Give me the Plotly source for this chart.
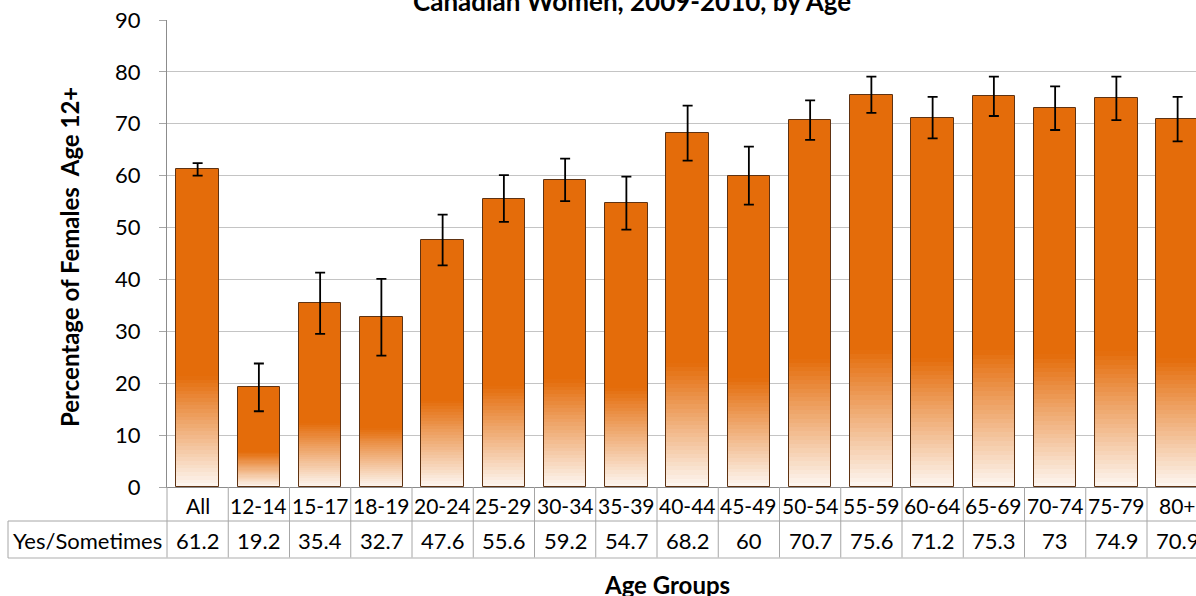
import plotly.graph_objects as go

categories = ["All", "12-14", "15-17", "18-19", "20-24", "25-29", "30-34", "35-39", "40-44",
              "45-49", "50-54", "55-59", "60-64", "65-69", "70-74", "75-79", "80+"]
values = [61.2, 19.2, 35.4, 32.7, 47.6, 55.6, 59.2, 54.7, 68.2, 60, 70.7, 75.6, 71.2, 75.3, 73, 74.9, 70.9]
value_labels = ["61.2", "19.2", "35.4", "32.7", "47.6", "55.6", "59.2", "54.7", "68.2", "60",
                "70.7", "75.6", "71.2", "75.3", "73", "74.9", "70.9"]
errors = [1.2, 4.6, 5.9, 7.4, 4.9, 4.5, 4.1, 5.1, 5.3, 5.6, 3.8, 3.5, 4.0, 3.8, 4.2, 4.2, 4.3]
y_ticks = [0, 10, 20, 30, 40, 50, 60, 70, 80, 90]

W, H = 1196, 596
ML, MR, MT, MB = 167, 0, 20, 109
PW, PH = W - ML - MR, H - MT - MB
X0, X1 = -0.5, 16.3

FONT = "Lato"
ORANGE = (228, 108, 10)
WHITE = (253, 247, 242)
BAR_W = 0.69
GRAD_FRAC = 0.35
STEPS = 30


def px_x(p):
    return (p - ML) / PW


def px_y(p):
    return (H - MB - p) / PH


def mix(t):
    c = [round(WHITE[i] + (ORANGE[i] - WHITE[i]) * t) for i in range(3)]
    return "rgb(%d,%d,%d)" % tuple(c)


xpos = list(range(len(categories)))
fig = go.Figure()

# solid bar body
fig.add_trace(go.Bar(x=xpos, y=values, width=BAR_W, marker=dict(color=mix(1.0), line=dict(width=0)),
                     hoverinfo="skip", showlegend=False))
# gradient toward the base of each bar
for j in range(STEPS, 0, -1):
    frac = GRAD_FRAC * j / STEPS
    t = (j - 0.5) / STEPS
    fig.add_trace(go.Bar(x=xpos, y=[v * frac for v in values], width=BAR_W,
                         marker=dict(color=mix(t), line=dict(width=0)),
                         hoverinfo="skip", showlegend=False))
# outline + error bars
fig.add_trace(go.Bar(x=xpos, y=values, width=BAR_W, name="Yes/Sometimes",
                     marker=dict(color="rgba(0,0,0,0)", line=dict(color="#5e3212", width=1)),
                     error_y=dict(type="data", array=errors, visible=True, color="black",
                                  thickness=1.8, width=5),
                     customdata=categories,
                     hovertemplate="%{customdata}: %{y}<extra></extra>", showlegend=False))

shapes = []
line_c = "#a6a6a6"
y_axis = 0
y_row = px_y(521)
y_bot = px_y(558)
for i in range(len(categories) + 1):
    b = i - 0.5
    xp = (b - X0) / (X1 - X0)
    if xp > 1.0:
        continue
    shapes.append(dict(type="line", xref="paper", yref="paper", x0=xp, x1=xp, y0=y_axis, y1=y_bot,
                       line=dict(color=line_c, width=1)))
shapes.append(dict(type="line", xref="paper", yref="paper", x0=px_x(8), x1=1.0, y0=y_row, y1=y_row,
                   line=dict(color=line_c, width=1)))
shapes.append(dict(type="line", xref="paper", yref="paper", x0=px_x(8), x1=1.0, y0=y_bot, y1=y_bot,
                   line=dict(color="#c8c8c8", width=1.5)))
shapes.append(dict(type="line", xref="paper", yref="paper", x0=px_x(8), x1=px_x(8), y0=y_row, y1=y_bot,
                   line=dict(color=line_c, width=1)))

annotations = []
for i, (c, v) in enumerate(zip(categories, value_labels)):
    annotations.append(dict(x=i, xref="x", y=px_y(505), yref="paper", text=c, showarrow=False,
                            font=dict(family=FONT, size=21, color="black"), xanchor="center", yanchor="middle"))
    annotations.append(dict(x=i, xref="x", y=px_y(540), yref="paper", text=v, showarrow=False,
                            font=dict(family=FONT, size=22, color="black"), xanchor="center", yanchor="middle"))
annotations.append(dict(x=px_x(87), xref="paper", y=px_y(540), yref="paper", text="Yes/Sometimes",
                        showarrow=False, font=dict(family=FONT, size=22, color="black"),
                        xanchor="center", yanchor="middle"))
annotations.append(dict(x=px_x(69), xref="paper", y=px_y(257), yref="paper",
                        text="<b>Percentage of Females  Age 12+</b>", textangle=-90, showarrow=False,
                        font=dict(family=FONT, size=24, color="black"), xanchor="center", yanchor="middle"))
annotations.append(dict(x=px_x(667), xref="paper", y=px_y(584), yref="paper", text="<b>Age Groups</b>",
                        showarrow=False, font=dict(family=FONT, size=24, color="black"),
                        xanchor="center", yanchor="middle"))
annotations.append(dict(x=px_x(632), xref="paper", y=px_y(1), yref="paper",
                        text="<b>Canadian Women, 2009-2010, by Age</b>",
                        showarrow=False, font=dict(family=FONT, size=26, color="black"),
                        xanchor="center", yanchor="middle"))

fig.update_layout(
    width=W, height=H,
    margin=dict(l=ML, r=MR, t=MT, b=MB, pad=0),
    paper_bgcolor="white", plot_bgcolor="white",
    barmode="overlay",
    bargap=0,
    xaxis=dict(range=[X0, X1], showticklabels=False, showgrid=False, zeroline=False,
               showline=True, linecolor="#8c8c8c", linewidth=1, ticks=""),
    yaxis=dict(range=[0, 90], tickvals=y_ticks, showgrid=True, gridcolor="#c4c4c4", gridwidth=1,
               zeroline=False, showline=True, linecolor="#8c8c8c", linewidth=1,
               ticks="outside", ticklen=7, tickcolor="#a6a6a6", ticklabelstandoff=14,
               tickfont=dict(family=FONT, size=22, color="black")),
    shapes=shapes,
    annotations=annotations,
    showlegend=False,
)

fig.write_html("out.html", config={"displayModeBar": False},
               post_script="document.body.style.margin='0';document.body.style.overflow='hidden';")
